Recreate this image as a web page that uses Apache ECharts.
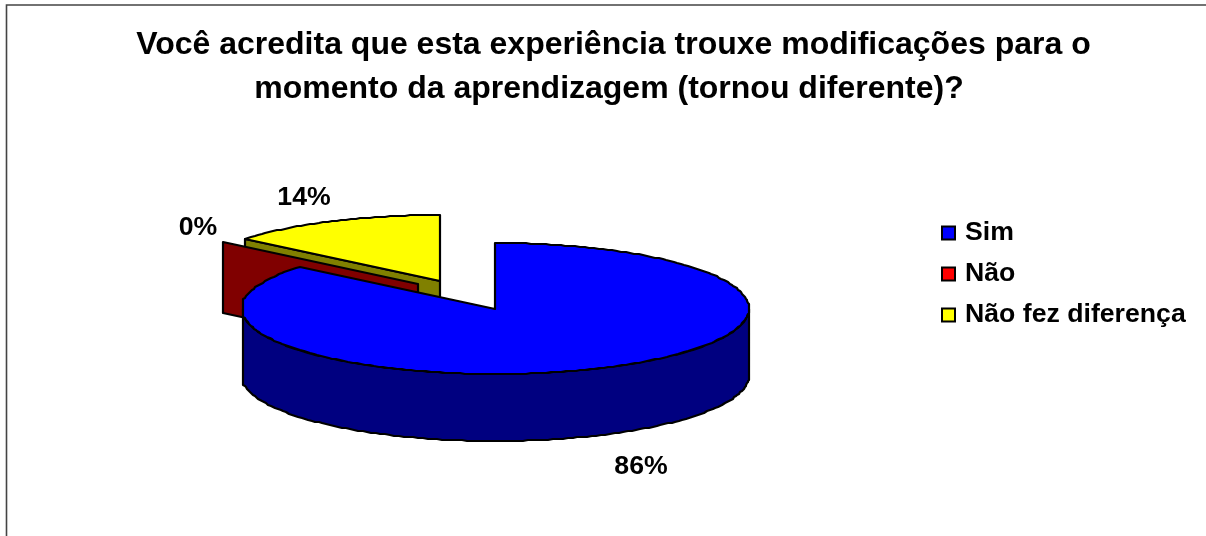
<!DOCTYPE html>
<html>
<head>
<meta charset="utf-8">
<style>
  html, body { margin: 0; padding: 0; background: #fff; }
  #chart { width: 1206px; height: 536px; }
</style>
<script src="https://cdn.jsdelivr.net/npm/echarts@6/dist/echarts.min.js"></script>
</head>
<body>
<div id="chart"></div>
<script>
var titleText = ' Você acredita que esta experiência trouxe modificações para o\nmomento da aprendizagem (tornou diferente)?'
var categories = ['Sim', 'Não', 'Não fez diferença']
var values = [86, 0, 14]

// look of each slice: face, wall colour, explode shift, side height, label shift from the rim middle
var faceColors = ['#0000ff', '#ff0000', '#ffff00']
var sideColors = ['#000080', '#800000', '#808000']
var shifts = [[0, 0], [-77.4, -25], [-55.4, -28]]
var depths = [67, 71, 67]
var labelShifts = [[38, 99], [-25, -14], [-28, -23]]

var cx = 495.4, cy = 308.5, rx = 253.5, ry = 65.5
var total = values.reduce(function (a, b) { return a + b }, 0)
var font = 'Liberation Sans, Arial, sans-serif'

function rim(i, a, down) {
  var sx = Math.sin(a)
  // the outline sits flat against the left and right extremes
  if (sx > 0.997) sx = 1
  if (sx < -0.989) sx = -0.995
  return [
    Math.round(cx + shifts[i][0] + rx * sx),
    Math.round(cy + shifts[i][1] - ry * Math.cos(a) + (down ? depths[i] : 0))
  ]
}

function renderSlice(i) {
  var before = 0
  for (var k = 0; k < i; k++) before += values[k]
  var a0 = before / total * Math.PI * 2
  var a1 = (before + values[i]) / total * Math.PI * 2
  var center = [Math.round(cx + shifts[i][0]), Math.round(cy + shifts[i][1])]
  var line = { stroke: '#000', lineWidth: 2.2, lineJoin: 'round' }
  var step = 0.02
  var children = []

  // walls seen from the front, only the first edge of the back slices shows
  if (i > 0) {
    children.push({
      type: 'polygon',
      shape: { points: [center, rim(i, a0), rim(i, a0, true), [center[0], center[1] + depths[i]]] },
      style: Object.assign({ fill: sideColors[i] }, line)
    })
  }

  // outer side, lower half of the ellipse only
  var from = Math.max(a0, Math.PI / 2), to = Math.min(a1, Math.PI * 1.5)
  if (to > from) {
    var side = [], t
    for (t = from; t < to; t += step) side.push(rim(i, t))
    side.push(rim(i, to))
    side.push(rim(i, to, true))
    for (t = to; t > from; t -= step) side.push(rim(i, t, true))
    side.push(rim(i, from, true))
    children.push({ type: 'polygon', shape: { points: side }, style: Object.assign({ fill: sideColors[i] }, line) })
  }

  if (a1 > a0) {
    var top = [center]
    for (var s = a0; s < a1; s += step) top.push(rim(i, s))
    top.push(rim(i, a1))
    children.push({ type: 'polygon', shape: { points: top }, style: Object.assign({ fill: faceColors[i] }, line) })
  }

  var mid = rim(i, (a0 + a1) / 2)
  children.push({
    type: 'text',
    x: mid[0] + labelShifts[i][0],
    y: mid[1] + labelShifts[i][1],
    style: {
      text: Math.round(values[i] / total * 100) + '%',
      fontFamily: font, fontWeight: 'bold', fontSize: 26.67, fill: '#000',
      align: 'center', verticalAlign: 'middle'
    }
  })
  return { type: 'group', children: children }
}

var series = categories.map(function (name, i) {
  return {
    name: name,
    type: 'custom',
    coordinateSystem: 'none',
    z: [4, 3, 2][i],
    silent: true,
    animation: false,
    itemStyle: { color: faceColors[i] },
    data: [values[i]],
    renderItem: function () { return renderSlice(i) }
  }
})

var myChart = echarts.init(document.getElementById('chart'), null, { renderer: 'canvas' })
myChart.setOption({
  animation: false,
  backgroundColor: '#fff',
  title: {
    text: titleText,
    left: 604,
    top: 18,
    textAlign: 'center',
    textStyle: { fontFamily: font, fontWeight: 'bold', fontSize: 32, lineHeight: 44, color: '#000' }
  },
  legend: {
    data: categories,
    orient: 'vertical',
    left: 941,
    top: 218,
    padding: 0,
    icon: 'rect',
    itemWidth: 13,
    itemHeight: 13,
    itemGap: 11,
    selectedMode: false,
    itemStyle: { borderColor: '#000', borderWidth: 2 },
    textStyle: { fontFamily: font, fontWeight: 'bold', fontSize: 26.67, lineHeight: 30, color: '#000', padding: [0, 0, 0, 5] }
  },
  graphic: [{
    type: 'polyline',
    shape: { points: [[6.5, 536], [6.5, 5], [1206, 5]] },
    style: { stroke: '#444', lineWidth: 1.6, fill: null }
  }],
  series: series
})
</script>
</body>
</html>
